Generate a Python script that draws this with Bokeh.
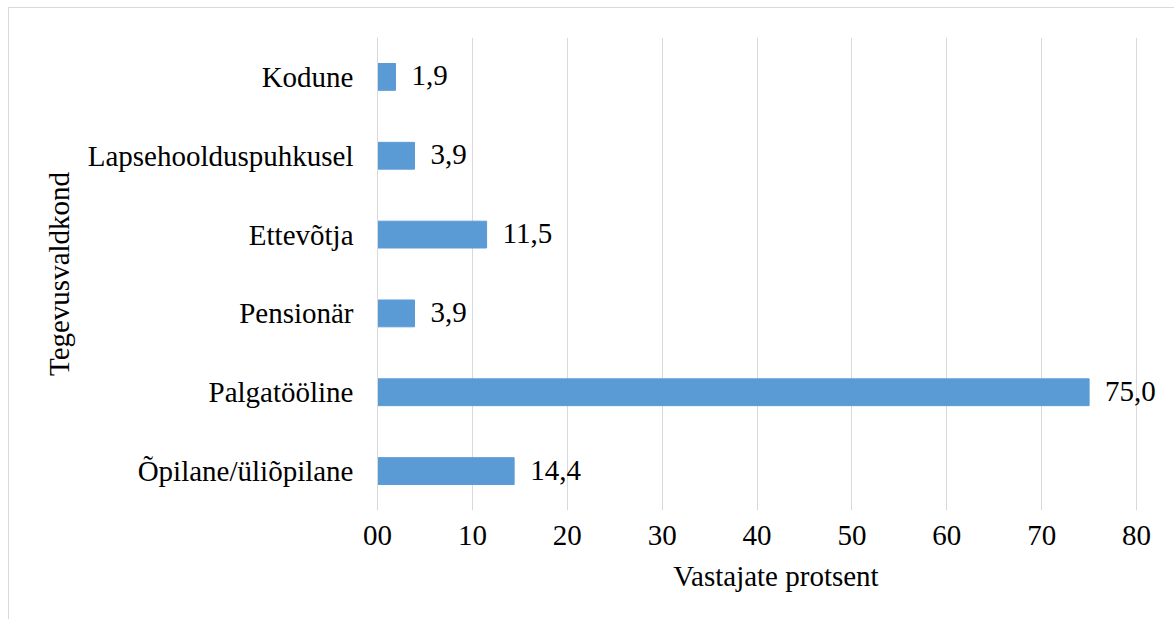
from bokeh.plotting import figure
from bokeh.models import Range1d, FactorRange, FixedTicker, ColumnDataSource
from bokeh.core.properties import value
from bokeh.embed import file_html
from bokeh.resources import INLINE

categories = ["Õpilane/üliõpilane", "Palgatööline", "Pensionär", "Ettevõtja",
              "Lapsehoolduspuhkusel", "Kodune"]
values = [14.4, 75.0, 3.9, 11.5, 3.9, 1.9]
tick_values = [0, 10, 20, 30, 40, 50, 60, 70, 80]
tick_labels = ["00", "10", "20", "30", "40", "50", "60", "70", "80"]
x_title = "Vastajate protsent"
y_title = "Tegevusvaldkond"

FONT = "'Liberation Serif', serif"
FS = "29px"
BAR = "#5B9BD5"
GRID = "#d9d9d9"

labels = [f"{v:.1f}".replace(".", ",") for v in values]
src = ColumnDataSource(dict(cat=categories, val=values, lab=labels))

p = figure(width=1166, height=612, output_backend="svg", toolbar_location=None,
           x_range=Range1d(0, 84), y_range=FactorRange(factors=categories, range_padding=0),
           min_border_left=368, min_border_right=1, min_border_top=29, min_border_bottom=110)
p.styles = {"border-top": "1px solid #d9d9d9", "border-left": "1px solid #d9d9d9",
            "margin-left": "8px", "margin-top": "7px"}
p.outline_line_color = None
p.background_fill_color = "white"
p.border_fill_color = "white"

p.hbar(y="cat", right="val", left=0, height=0.34, color=BAR, source=src)
p.text(x="val", y="cat", text="lab", source=src, x_offset=16, y_offset=-1,
       text_font=value(FONT), text_font_size=FS, text_baseline="middle",
       text_align="left", text_color="black")

p.xaxis.ticker = FixedTicker(ticks=tick_values)
p.xaxis.major_label_overrides = {t: l for t, l in zip(tick_values, tick_labels)}
p.xaxis.axis_line_color = None
p.xaxis.major_tick_line_color = None
p.xaxis.minor_tick_line_color = None
p.xaxis.major_label_standoff = 9
p.xaxis.axis_label = x_title
p.xaxis.axis_label_standoff = 12

p.yaxis.axis_line_color = GRID
p.yaxis.axis_line_width = 1
p.yaxis.major_tick_line_color = None
p.yaxis.minor_tick_line_color = None
p.yaxis.major_label_standoff = 18
p.yaxis.axis_label = y_title
p.yaxis.axis_label_standoff = 10

for ax in (p.xaxis, p.yaxis):
    ax.major_label_text_font = FONT
    ax.major_label_text_font_size = FS
    ax.major_label_text_color = "black"
    ax.axis_label_text_font = FONT
    ax.axis_label_text_font_size = FS
    ax.axis_label_text_font_style = "normal"
    ax.axis_label_text_color = "black"

p.xgrid.grid_line_color = GRID
p.xgrid.grid_line_width = 1
p.ygrid.grid_line_color = None

open("out.html", "w").write(file_html(p, INLINE))
